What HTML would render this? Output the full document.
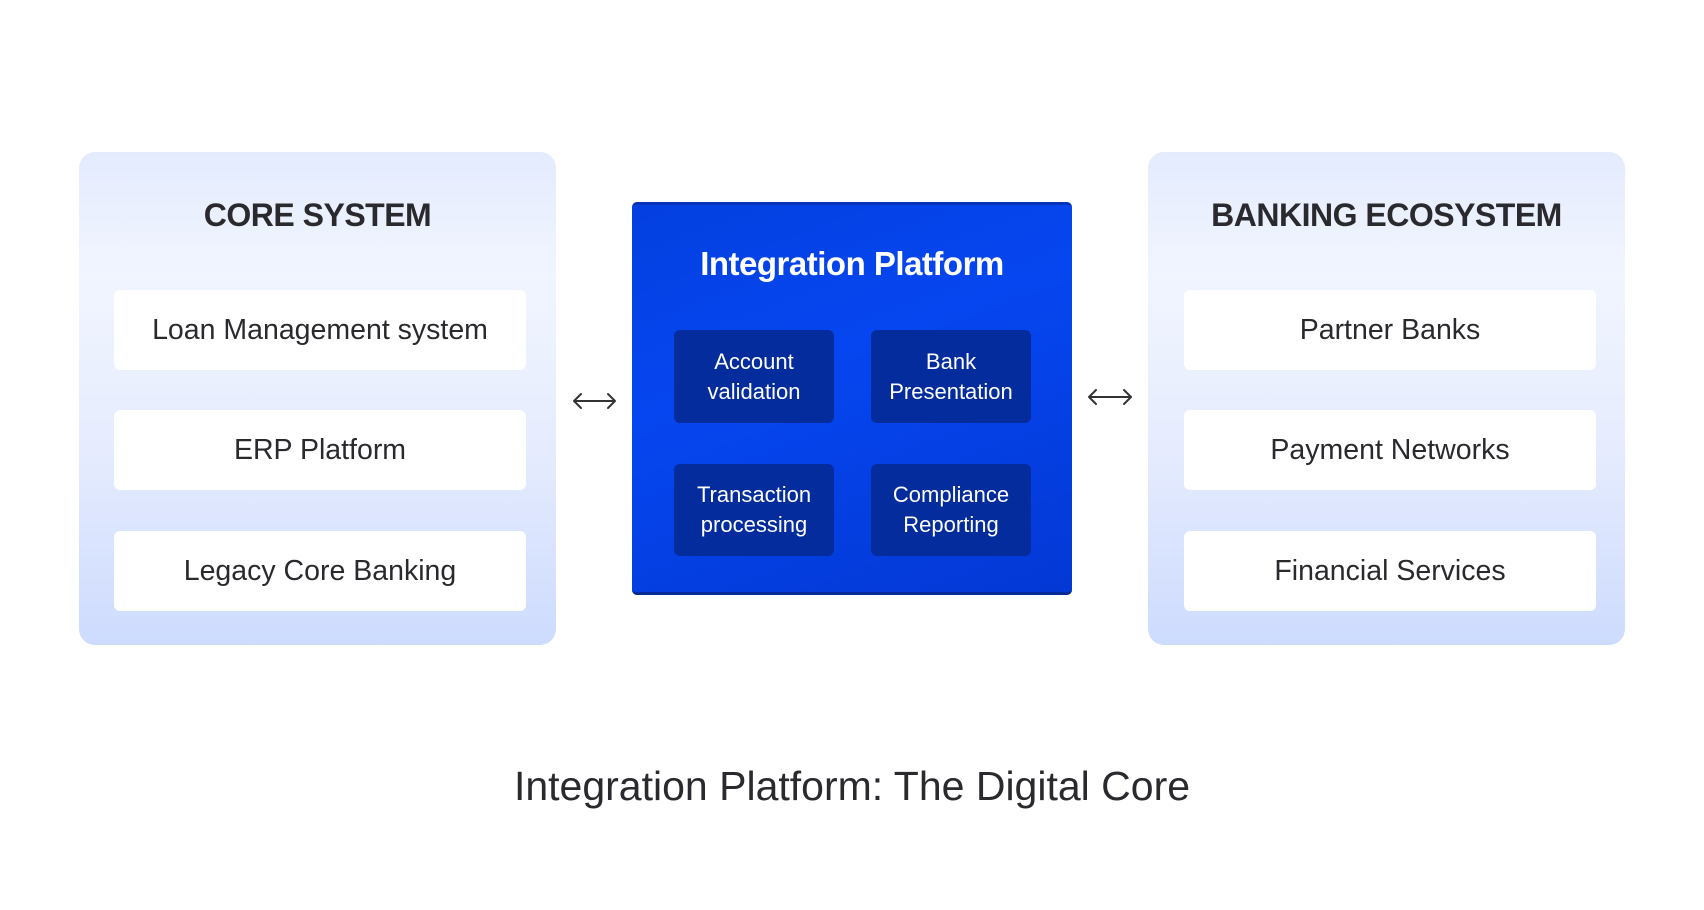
<!DOCTYPE html>
<html><head><style>
body{margin:0;width:1704px;height:910px;background:#fff;position:relative;font-family:"Liberation Sans",sans-serif;overflow:hidden}
.panel{position:absolute;top:152px;width:477px;height:493px;border-radius:16px;background:linear-gradient(180deg,#e4ebfd 0%,#f1f5ff 25%,#e6ecfe 60%,#cddbfd 100%)}
.ptitle{position:absolute;top:197px;width:477px;text-align:center;font-weight:bold;font-size:32px;color:#2a2a2e;letter-spacing:-0.5px}
.item{position:absolute;width:412px;height:80px;background:#fff;border-radius:6px;display:flex;align-items:center;justify-content:center;font-size:28.5px;color:#2a2a2e}
.center{position:absolute;left:632px;top:202px;width:440px;height:393px;border-radius:5px;background:linear-gradient(160deg,#0440e0,#0646f0 40%,#0338d4);border-top:3px solid #0333b8;border-bottom:3px solid #062a98;box-sizing:border-box}
.ct{position:absolute;left:632px;width:440px;top:245px;text-align:center;color:#fff;font-weight:bold;font-size:33px;letter-spacing:-0.5px}
.sub{position:absolute;width:160px;background:#042c9c;border-radius:6px;color:#fff;font-size:22px;line-height:30px;display:flex;align-items:center;justify-content:center;text-align:center}
</style></head><body>
<div class="panel" style="left:79px"></div>
<div class="panel" style="left:1148px"></div>
<div class="ptitle" style="left:79px">CORE SYSTEM</div>
<div class="ptitle" style="left:1148px">BANKING ECOSYSTEM</div>
<div class="item" style="left:114px;top:290px">Loan Management system</div>
<div class="item" style="left:114px;top:410px">ERP Platform</div>
<div class="item" style="left:114px;top:531px">Legacy Core Banking</div>
<div class="item" style="left:1184px;top:290px">Partner Banks</div>
<div class="item" style="left:1184px;top:410px">Payment Networks</div>
<div class="item" style="left:1184px;top:531px">Financial Services</div>
<div class="center"></div>
<div class="ct">Integration Platform</div>
<div class="sub" style="left:674px;top:330px;height:93px">Account<br>validation</div>
<div class="sub" style="left:871px;top:330px;height:93px">Bank<br>Presentation</div>
<div class="sub" style="left:674px;top:464px;height:92px">Transaction<br>processing</div>
<div class="sub" style="left:871px;top:464px;height:92px">Compliance<br>Reporting</div>
<svg style="position:absolute;left:0;top:0" width="1704" height="910">
<g stroke="#333" stroke-width="2" fill="none" stroke-linecap="round" stroke-linejoin="round">
<path d="M574 401H615M581 394L574 401L581 408M608 394L615 401L608 408"/>
<path d="M1089 397H1131M1096 390L1089 397L1096 404M1124 390L1131 397L1124 404"/>
</g></svg>
<div style="position:absolute;left:0;width:1704px;top:763px;text-align:center;font-size:41px;color:#2a2a2e">Integration Platform: The Digital Core</div>
</body></html>
